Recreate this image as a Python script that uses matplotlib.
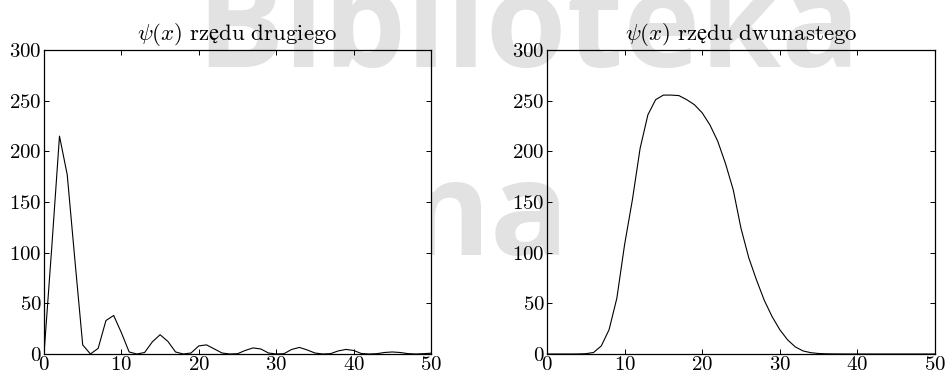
"""Two psi(x) curves: order two (rippled) and order twelve (smooth hump)."""

import matplotlib

matplotlib.use("Agg")
import matplotlib.pyplot as plt
from matplotlib.transforms import Bbox

plt.rcParams["font.family"] = ["cmr10", "DejaVu Serif"]
plt.rcParams["mathtext.fontset"] = "cm"
plt.rcParams["axes.formatter.use_mathtext"] = True

# values, one per integer x
x_vals = list(range(51))
psi_order2 = [
    0, 105, 215, 177, 92, 9, 0, 5.6, 33, 38,
    21, 2, 0, 1.5, 12, 19, 12.5, 2, 0, 1,
    8, 9, 5, 1, 0, 0.3, 3.5, 6, 5, 1,
    0, 0.3, 4.5, 6.5, 4, 1, 0, 0.3, 3, 4.5,
    3.5, 0.5, 0, 0.3, 1.5, 2, 1.5, 0.4, 0, 0.3,
    0.8,
]
psi_order12 = [
    0, 0, 0, 0, 0.05, 0.3, 1.5, 8, 24, 55,
    108, 152, 203, 236, 251, 255.5, 255.5, 255, 251, 246,
    238, 226, 210, 188, 162, 124, 95, 73, 53, 37,
    24, 14, 7, 3, 1.3, 0.5, 0.2, 0.1, 0.05, 0,
    0, 0, 0, 0, 0, 0, 0, 0, 0, 0,
    0,
]
# whole title in mathtext so the missing "ę" falls back to STIX
titles = [r"$\psi(x)\ \mathrm{rzędu\ drugiego}$",
          r"$\psi(x)\ \mathrm{rzędu\ dwunastego}$"]
x_ticks = [0, 10, 20, 30, 40, 50]
y_ticks = [0, 50, 100, 150, 200, 250, 300]

W, H = 949, 383
fig = plt.figure(figsize=(W / 100, H / 100), dpi=100)

# faint library watermark behind everything
wm = dict(family="Open Sans", weight="bold", color="#e2e2e2", fontsize=94, zorder=-1)
fig.text(528 / W, 1 - 67 / H, "Biblioteka", ha="center", va="baseline", **wm)
na = fig.text(487 / W, 1 - 255 / H, "na", ha="center", va="baseline", **wm)
na.set_clip_box(Bbox([[431, 0], [W, H]]))
na.set_clip_on(True)

boxes = [(44, 431), (547, 935)]
series = [psi_order2, psi_order12]
for (x0, x1), ys, title in zip(boxes, series, titles):
    ax = fig.add_axes([x0 / W, (H - 354) / H, (x1 - x0) / W, 304 / H])
    ax.patch.set_alpha(0)
    ax.plot(x_vals, ys, color="black", linewidth=0.8)
    ax.set_xlim(0, 50)
    ax.set_ylim(0, 300)
    ax.set_xticks(x_ticks)
    ax.set_yticks(y_ticks)
    ax.tick_params(direction="in", top=True, right=True, length=3.5,
                   width=0.7, labelsize=15, pad=1.5)
    for sp in ax.spines.values():
        sp.set_linewidth(0.9)
    ax.set_title(title, fontsize=16.5, pad=7)

fig.savefig("out.png", dpi=100)
